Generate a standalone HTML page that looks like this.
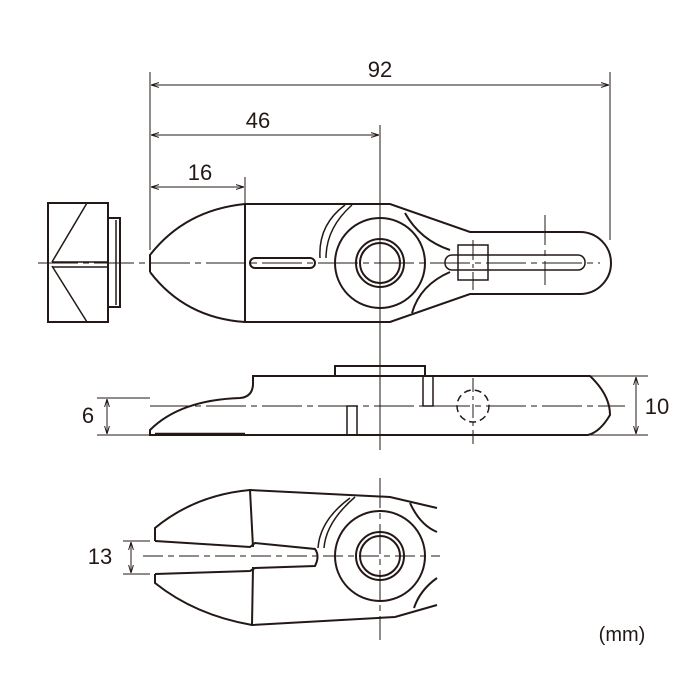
<!DOCTYPE html>
<html><head><style>body{margin:0;background:#fff}svg{display:block}</style></head><body>
<svg width="700" height="700" viewBox="0 0 700 700" xmlns="http://www.w3.org/2000/svg" font-family="Liberation Sans, sans-serif">
<defs><marker id="a" viewBox="0 0 10 10" refX="10" refY="5" markerWidth="8" markerHeight="8" orient="auto-start-reverse"><path d="M0,2 L10,5 L0,8" fill="none" stroke="#231815" stroke-width="1.2"/></marker></defs>
<g fill="none" stroke="#231815" stroke-width="1">
<!-- dims top -->
<line x1="150" y1="72" x2="150" y2="250"/>
<line x1="610" y1="72" x2="610" y2="240"/>
<line x1="380" y1="125" x2="380" y2="450"/>
<line x1="245" y1="177" x2="245" y2="204"/>
<line x1="151" y1="85" x2="609" y2="85" marker-start="url(#a)" marker-end="url(#a)"/>
<line x1="151" y1="135" x2="379" y2="135" marker-start="url(#a)" marker-end="url(#a)"/>
<line x1="151" y1="187" x2="244" y2="187" marker-start="url(#a)" marker-end="url(#a)"/>
<!-- centerline top -->
<line x1="38" y1="263" x2="600" y2="263" stroke-dasharray="40,5,6,5"/>
<line x1="545" y1="215" x2="545" y2="285" stroke-dasharray="30,5,6,5"/>
<line x1="473" y1="240" x2="473" y2="290" stroke-dasharray="20,4,4,4"/>
</g>
<g fill="none" stroke="#231815" stroke-width="2">
<!-- end view -->
<rect x="48" y="203" width="60" height="119"/>
<path d="M108,218 H120 V307 H108"/><line x1="116" y1="220" x2="116" y2="305" stroke-width="1.5"/>
<path d="M87,203 L52,262 M52,266 L87,322 M52,262 H108 M52,267 H108" stroke-width="1.5"/>
<!-- top view body -->
<path d="M150,272 V255 Q185,210 245,204 H390 L470,232 H580 A31,31 0 0 1 580,294 H470 L390,322 H245 Q185,318 150,272"/>
<line x1="245" y1="204" x2="245" y2="322"/>
<rect x="250" y="258" width="65" height="10" rx="5"/>
<path d="M320,258 Q318,225 345,205 M326,258 Q326,228 352,205" stroke-width="1.5"/>
<circle cx="380" cy="263" r="45"/>
<circle cx="380" cy="263" r="24"/>
<circle cx="380" cy="263" r="20"/>
<path d="M405,213 Q420,240 450,250 M412,313 Q420,285 450,272"/>
<rect x="445" y="255" width="140" height="15" rx="7" stroke-width="1.5"/>
<rect x="458" y="245" width="30" height="35" stroke-width="1.5"/>
<!-- side view -->
<path d="M150,435 V430 Q180,400 240,398 Q252,397 253,385 V376 H590 Q610,395 610,415 Q600,432 588,435 Z"/>
<path d="M335,376 V366 H425 V376"/>
<path d="M423,376 V406 H433 V376 M347,435 V406 H357 V435" stroke-width="1.5"/>
<line x1="155" y1="434" x2="245" y2="434" stroke-width="2.5"/>
</g>
<g fill="none" stroke="#231815" stroke-width="1">
<line x1="150" y1="406" x2="625" y2="406" stroke-dasharray="40,5,6,5"/>
<line x1="473" y1="378" x2="473" y2="445" stroke-dasharray="14,4,4,4"/>
<circle cx="473" cy="406" r="16" stroke-width="1.5" stroke-dasharray="7,4"/>
<line x1="97" y1="398" x2="150" y2="398"/><line x1="97" y1="435" x2="150" y2="435"/>
<line x1="107" y1="399" x2="107" y2="434" marker-start="url(#a)" marker-end="url(#a)"/>
<line x1="590" y1="376" x2="648" y2="376"/><line x1="590" y1="435" x2="648" y2="435"/>
<line x1="636" y1="377" x2="636" y2="434" marker-start="url(#a)" marker-end="url(#a)"/>
<!-- bottom view dims/centerlines -->
<line x1="380" y1="478" x2="380" y2="640" stroke-dasharray="30,5,6,5"/>
<line x1="143" y1="556" x2="440" y2="556" stroke-dasharray="20,5,6,5"/>
<line x1="123" y1="541" x2="150" y2="541"/><line x1="123" y1="574" x2="150" y2="574"/>
<line x1="131" y1="542" x2="131" y2="573" marker-start="url(#a)" marker-end="url(#a)"/>
</g>
<g fill="none" stroke="#231815" stroke-width="2">
<path d="M155,541 V528 Q195,495 250,490 L390,497 L437,508"/>
<path d="M155,574 V583 Q195,615 252,625 L395,617 L437,605"/>
<path d="M155,541 L250,547 L255,543 L315,549 Q320,556 315,566 L255,568 L250,571 L155,574"/>
<path d="M250,490 L253,547 M253,567 L252,625"/>
<path d="M318,548 Q320,520 350,498 M324,548 Q326,522 355,497" stroke-width="1.5"/>
<circle cx="380" cy="556" r="45"/>
<circle cx="380" cy="556" r="24"/>
<circle cx="380" cy="556" r="20"/>
<path d="M410,503 Q420,525 437,532 M414,608 Q420,590 437,578"/>
</g>
<g fill="#231815" font-size="22">
<text x="380" y="77" text-anchor="middle">92</text>
<text x="258" y="128" text-anchor="middle">46</text>
<text x="200" y="180" text-anchor="middle">16</text>
<text x="88" y="423" text-anchor="middle">6</text>
<text x="657" y="414" text-anchor="middle">10</text>
<text x="100" y="564" text-anchor="middle">13</text>
<text x="622" y="641" text-anchor="middle" font-size="20">(mm)</text>
</g>
</svg>
</body></html>
